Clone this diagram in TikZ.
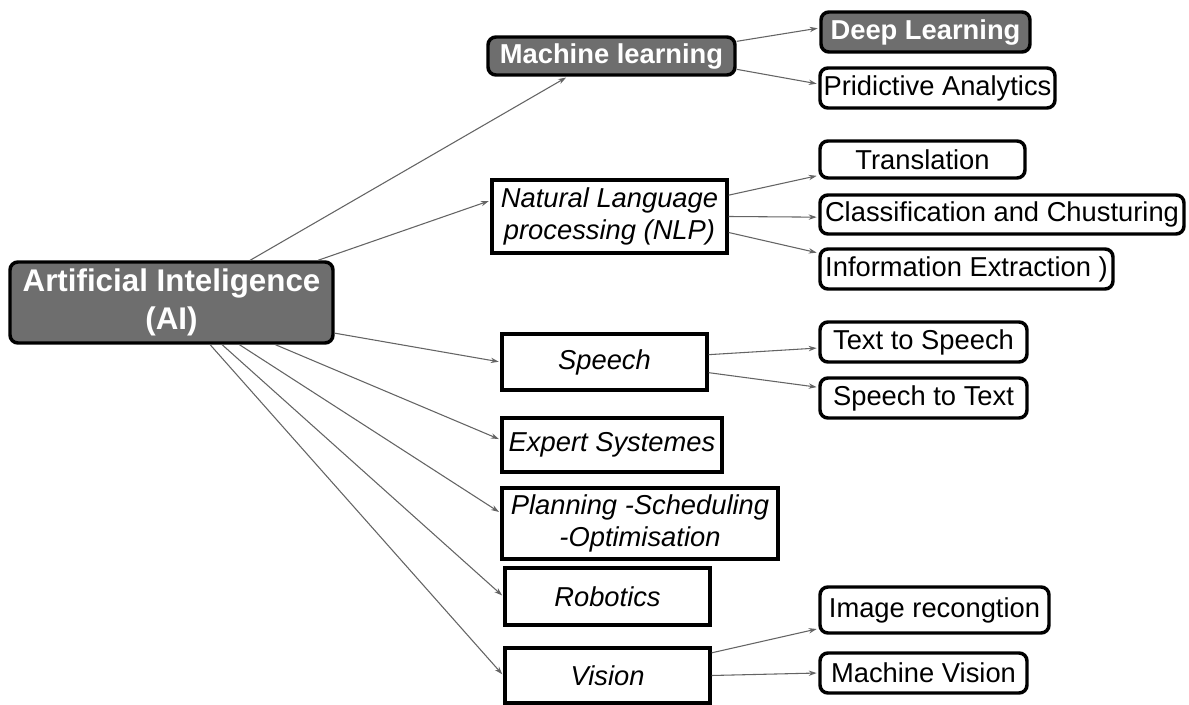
\documentclass[tikz,border=0pt]{standalone}
\usepackage{fontspec}
\setmainfont{Liberation Sans}
\usetikzlibrary{arrows.meta,calc}
\definecolor{boxgray}{RGB}{110,110,110}
\definecolor{linegray}{RGB}{100,100,100}
\begin{document}
\begin{tikzpicture}[x=0.75pt,y=-0.75pt,
  base/.style={draw=black,line width=2.6pt,inner sep=0pt,align=center,font=\fontsize{20.5}{24}\selectfont},
  dark/.style={base,rounded corners=6pt,fill=boxgray,text=white,font=\fontsize{20.5}{24}\selectfont\bfseries},
  leaf/.style={base,rounded corners=6pt,fill=white},
  topic/.style={base,line width=2.5pt,fill=white,font=\fontsize{20.5}{24.5}\selectfont\itshape},
  wh/.style 2 args={minimum width=#1*0.75pt,minimum height=#2*0.75pt},
  link/.style={draw=linegray,line width=0.8pt,shorten >=1.2pt,-{Stealth[length=6pt,width=4pt]}}
]
\useasboundingbox (0,0) rectangle (1189,705);
\path[fill=white] (0,0) rectangle (1189,705);

\node[dark,wh={323}{81},font=\fontsize{23.5}{28}\selectfont\bfseries] (ai) at (171.5,302.5) {Artificial Inteligence\\(AI)};
\node[dark,wh={247}{38}] (ml) at (611.5,56) {Machine learning};
\node[dark,wh={209}{40}] (dl) at (925.5,32) {Deep Learning};
\node[leaf,wh={235}{40}] (pa) at (937.5,88) {Pridictive Analytics};
\node[leaf,wh={205}{37}] (tr) at (922.5,159.5) {Translation};
\node[topic,wh={235}{73}] (nlp) at (609.5,216.5) {Natural Language\\processing (NLP)};
\node[leaf,wh={364}{39}] (cl) at (1002,214.5) {Classification and Chusturing};
\node[leaf,wh={293}{40}] (ie) at (966.5,269) {Information Extraction )};
\node[topic,wh={205}{56}] (sp) at (604.5,362) {Speech};
\node[leaf,wh={207}{40}] (tts) at (923.5,342) {Text to Speech};
\node[leaf,wh={207}{40}] (stt) at (923.5,398) {Speech to Text};
\node[topic,wh={220}{54}] (es) at (612,445) {Expert Systemes};
\node[topic,wh={276}{71}] (pl) at (640,523.5) {Planning -Scheduling\\-Optimisation};
\node[topic,wh={205}{57}] (rb) at (607.5,596.5) {Robotics};
\node[leaf,wh={229}{46}] (ir) at (934.5,610) {Image recongtion};
\node[topic,wh={205}{55}] (vs) at (607.5,675.5) {Vision};
\node[leaf,wh={207}{40}] (mv) at (923.5,673) {Machine Vision};

\draw[link] ([xshift=59pt]ai.north) -- ([xshift=-33pt]ml.south);
\draw[link] ([xshift=110pt]ai.north) -- ([yshift=12pt]nlp.west);
\draw[link] ([yshift=-23pt]ai.east) -- (sp.west);
\draw[link] ([xshift=78pt]ai.south) -- ([yshift=4pt]es.west);
\draw[link] ([xshift=51pt]ai.south) -- ([yshift=8pt]pl.west);
\draw[link] ([xshift=38pt]ai.south) -- (rb.west);
\draw[link] ([xshift=29pt]ai.south) -- (vs.west);

\draw[link] ([yshift=11pt]ml.east) -- ([yshift=3pt]dl.west);
\draw[link] ([yshift=-10pt]ml.east) -- ([yshift=3pt]pa.west);

\draw[link] ([yshift=16pt]nlp.east) -- ([yshift=-12pt]tr.west);
\draw[link] (nlp.east) -- ([yshift=-2pt]cl.west);
\draw[link] ([yshift=-12pt]nlp.east) -- ([yshift=12pt]ie.west);

\draw[link] ([yshift=5.5pt]sp.east) -- ([yshift=-4.5pt]tts.west);
\draw[link] ([yshift=-8pt]sp.east) -- ([yshift=8pt]stt.west);

\draw[link] ([yshift=17pt]vs.east) -- ([yshift=-14pt]ir.west);
\draw[link] (vs.east) -- (mv.west);
\end{tikzpicture}
\end{document}
